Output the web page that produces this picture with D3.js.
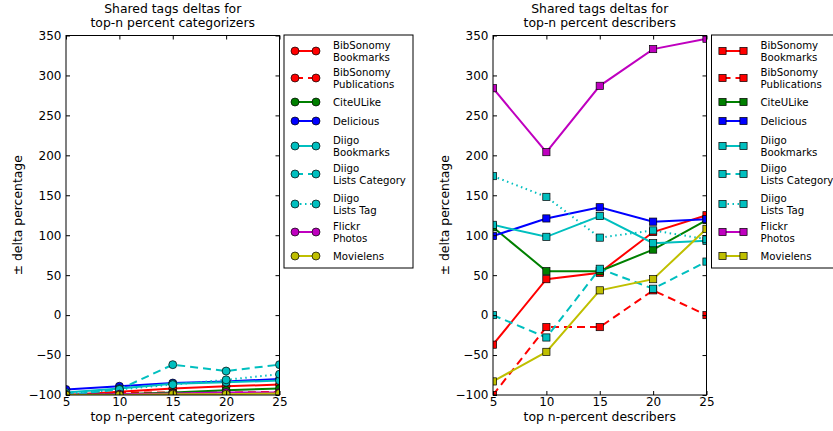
<!DOCTYPE html>
<html>
<head>
<meta charset="utf-8">
<script src="https://cdn.jsdelivr.net/npm/d3@7"></script>
<style>
  html, body { margin: 0; padding: 0; background: #fff; }
  svg { display: block; font-family: "DejaVu Sans", sans-serif; }
</style>
</head>
<body>
<svg id="chart" width="833" height="431"></svg>
<script>
// Percent-point values on the x axis
const topPercents = [5, 10, 15, 20, 25];
const yTickValues = [-100, -50, 0, 50, 100, 150, 200, 250, 300, 350];

const seriesLabels = [
  "BibSonomy\nBookmarks",
  "BibSonomy\nPublications",
  "CiteULike",
  "Delicious",
  "Diigo\nBookmarks",
  "Diigo\nLists Category",
  "Diigo\nLists Tag",
  "Flickr\nPhotos",
  "Movielens"
];

// Deltas for top-n percent categorizers, one row per series
const categorizerDeltas = [
  [-100, -96, -92, -89, -87],
  [-100, -97, -97, -97, -96],
  [-100, -99, -97, -94, -92],
  [-93, -89, -85, -83, -80],
  [-97, -92, -86, -84, -82],
  [-100, -93, -62, -70, -62],
  [-99, -93, -87, -81, -74],
  [-100, -99, -98, -97, -97],
  [-100, -100, -99, -99, -98]
];

// Deltas for top-n percent describers, one row per series
const describerDeltas = [
  [-37, 45, 53, 104, 125],
  [-100, -15, -15, 31, 0],
  [110, 55, 55, 82, 119],
  [99, 121, 135, 117, 120],
  [113, 98, 124, 90, 93],
  [0, -28, 58, 33, 67],
  [174, 148, 97, 106, 95],
  [284, 204, 287, 333, 346],
  [-83, -46, 31, 45, 108]
];

// Line styling per series (colour, dash)
const seriesColors = ["#ff0000", "#ff0000", "#008000", "#0000ff", "#00bfbf", "#00bfbf", "#00bfbf", "#bf00bf", "#bfbf00"];
const seriesDashes = [null, "8,5", null, null, null, "8,5", "1.5,3.5", null, null];

const svg = d3.select("#chart");

function drawPanel(opts) {
  const { left, right, top, bottom, values, marker, titleLines, xLabel, legendX, clipId } = opts;
  const x = d3.scaleLinear().domain([5, 25]).range([left, right]);
  const y = d3.scaleLinear().domain([-100, 350]).range([bottom, top]);

  svg.append("clipPath").attr("id", clipId)
    .append("rect").attr("x", left).attr("y", top)
    .attr("width", right - left).attr("height", bottom - top);

  const plot = svg.append("g").attr("clip-path", `url(#${clipId})`);
  const line = d3.line().x((d, i) => x(topPercents[i])).y(d => y(d));

  values.forEach((row, s) => {
    plot.append("path")
      .attr("d", line(row))
      .attr("fill", "none")
      .attr("stroke", seriesColors[s])
      .attr("stroke-width", 2)
      .attr("stroke-dasharray", seriesDashes[s]);
    row.forEach((v, i) => drawMarker(plot, marker, x(topPercents[i]), y(v), seriesColors[s]));
  });

  // Axes with inward ticks on all four sides
  const tickLen = 4;
  const fmt = d => d < 0 ? "\u2212" + Math.abs(d) : String(d);
  const axes = [
    { g: d3.axisBottom(x).tickValues(topPercents).tickPadding(2.5), t: `translate(0,${bottom})`, labels: true },
    { g: d3.axisTop(x).tickValues(topPercents), t: `translate(0,${top})`, labels: false },
    { g: d3.axisLeft(y).tickValues(yTickValues).tickPadding(4.5), t: `translate(${left},0)`, labels: true },
    { g: d3.axisRight(y).tickValues(yTickValues), t: `translate(${right},0)`, labels: false }
  ];
  axes.forEach(a => {
    const g = svg.append("g").attr("transform", a.t)
      .call(a.g.tickSizeInner(-tickLen).tickSizeOuter(0).tickFormat(fmt));
    g.select(".domain").remove();
    g.selectAll(".tick line").attr("stroke", "#000").attr("stroke-width", 1);
    g.selectAll(".tick text").attr("fill", "#000").attr("font-size", 12)
      .attr("font-family", "DejaVu Sans, sans-serif");
    if (!a.labels) g.selectAll(".tick text").remove();
  });

  svg.append("rect")
    .attr("x", left).attr("y", top)
    .attr("width", right - left).attr("height", bottom - top)
    .attr("fill", "none").attr("stroke", "#000").attr("stroke-width", 1);

  const cx = (left + right) / 2;
  titleLines.forEach((t, i) => {
    svg.append("text").attr("x", cx).attr("y", 13 + i * 14)
      .attr("text-anchor", "middle").attr("font-size", 12.4).text(t);
  });
  svg.append("text").attr("x", cx).attr("y", 421)
    .attr("text-anchor", "middle").attr("font-size", 12.4).text(xLabel);
  svg.append("text")
    .attr("transform", `translate(${left - 44},${(top + bottom) / 2}) rotate(-90)`)
    .attr("text-anchor", "middle").attr("font-size", 12.4)
    .text("\u00b1 delta percentage");

  // Legend
  const lg = svg.append("g");
  lg.append("rect").attr("x", legendX).attr("y", 35)
    .attr("width", 129).attr("height", 233)
    .attr("fill", "#fff").attr("stroke", "#000").attr("stroke-width", 1);
  const rowY = [51, 78, 102, 121, 146, 174, 204, 232, 256];
  seriesLabels.forEach((label, s) => {
    const yy = rowY[s];
    const x1 = legendX + 11, x2 = legendX + 32;
    lg.append("line").attr("x1", x1).attr("x2", x2).attr("y1", yy).attr("y2", yy)
      .attr("stroke", seriesColors[s]).attr("stroke-width", 2)
      .attr("stroke-dasharray", seriesDashes[s]);
    drawMarker(lg, marker, x1, yy, seriesColors[s]);
    drawMarker(lg, marker, x2, yy, seriesColors[s]);
    const lines = label.split("\n");
    const t = lg.append("text").attr("font-size", 10.2)
      .attr("x", legendX + 49);
    lines.forEach((ln, k) => {
      const off = lines.length === 1 ? 0 : (k === 0 ? -5.8 : 5.8);
      t.append("tspan").attr("x", legendX + 49).attr("y", yy + off + 3.8).text(ln);
    });
  });
}

function drawMarker(g, kind, cx, cy, color) {
  if (kind === "circle") {
    g.append("circle").attr("cx", cx).attr("cy", cy).attr("r", 4)
      .attr("fill", color).attr("stroke", "#000").attr("stroke-width", 0.7);
  } else {
    g.append("rect").attr("x", cx - 3.6).attr("y", cy - 3.6)
      .attr("width", 7.2).attr("height", 7.2)
      .attr("fill", color).attr("stroke", "#000").attr("stroke-width", 0.7);
  }
}

drawPanel({
  left: 66, right: 279.5, top: 35.5, bottom: 395,
  values: categorizerDeltas, marker: "circle",
  titleLines: ["Shared tags deltas for", "top-n percent categorizers"],
  xLabel: "top n-percent categorizers", legendX: 284, clipId: "clipLeft"
});

drawPanel({
  left: 493, right: 706.5, top: 35.5, bottom: 395,
  values: describerDeltas, marker: "square",
  titleLines: ["Shared tags deltas for", "top-n percent describers"],
  xLabel: "top n-percent describers", legendX: 711.5, clipId: "clipRight"
});
</script>
</body>
</html>
